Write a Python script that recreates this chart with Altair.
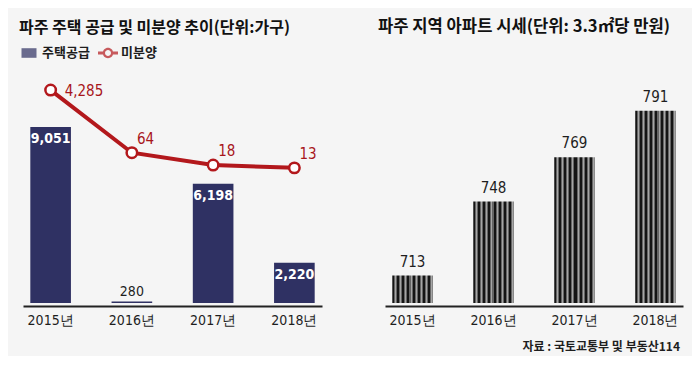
import altair as alt
import pandas as pd

# ---- data ----
years = ["2015년", "2016년", "2017년", "2018년"]
supply = [9051, 280, 6198, 2220]        # 주택공급 (가구)
unsold = [4285, 64, 18, 13]             # 미분양 (가구)
price = [713, 748, 769, 791]            # 아파트 시세 (3.3㎡당 만원)
legend_labels = ["주택공급", "미분양"]
title_left = "파주 주택 공급 및 미분양 추이(단위:가구)"
title_right = "파주 지역 아파트 시세(단위: 3.3㎡당 만원)"
source_text = "자료 : 국토교통부 및 부동산114"

df_left = pd.DataFrame({"year": years, "supply": supply, "unsold": unsold})
df_right = pd.DataFrame({"year": years, "price": price})
df_leg = pd.DataFrame({"series": legend_labels})

NAVY = "#2f3163"
RED = "#b3181c"
TXT = "#1e1e1e"
FONT = "DejaVu Sans Condensed, Liberation Sans, Arial, sans-serif"
KFONT = "Noto Sans CJK KR"
W_L, W_R, H = 299, 298, 262
P_MIN = 700

xaxis = alt.Axis(title=None, labelAngle=0, ticks=False, domainColor="#222",
                 domainWidth=2, offset=3, labelFontSize=14, labelColor=TXT,
                 labelPadding=7, labelFont=FONT, grid=False)
xs = alt.X("year:N", sort=years, axis=xaxis,
           scale=alt.Scale(paddingInner=0.5, paddingOuter=0.09))

ys_sup = alt.Y("supply:Q", axis=None,
               scale=alt.Scale(domain=[200, 13370], zero=False, nice=False))
ys_uns = alt.Y("unsold:Q", axis=None,
               scale=alt.Scale(type="pow", exponent=0.15, domain=[-127, 34340],
                               zero=False, nice=False))

bars_l = alt.Chart(df_left).mark_bar(color=NAVY, clip=True).encode(x=xs, y=ys_sup)
lab_in = alt.Chart(df_left).transform_filter("datum.supply >= 1000").mark_text(
    baseline="top", dy=5, color="white", fontSize=14, font=FONT, fontWeight="bold"
).encode(x=xs, y=ys_sup, text=alt.Text("supply:Q", format=","))
lab_out = alt.Chart(df_left).transform_filter("datum.supply < 1000").mark_text(
    baseline="bottom", dy=-2, color=TXT, fontSize=14, font=FONT
).encode(x=xs, y=ys_sup, text=alt.Text("supply:Q", format=","))

line = alt.Chart(df_left).mark_line(color=RED, strokeWidth=4).encode(x=xs, y=ys_uns)
pts = alt.Chart(df_left).mark_point(filled=True, fill="white", stroke=RED,
                                    strokeWidth=2.5, size=110, opacity=1).encode(x=xs, y=ys_uns)
ul_first = alt.Chart(df_left).transform_filter(alt.datum.year == years[0]).mark_text(
    align="left", baseline="middle", dx=14, dy=1, color="#a8161b", fontSize=15, font=FONT
).encode(x=xs, y=ys_uns, text=alt.Text("unsold:Q", format=","))
ul_rest = alt.Chart(df_left).transform_filter(alt.datum.year != years[0]).mark_text(
    align="left", baseline="middle", dx=5, dy=-14, color="#a8161b", fontSize=15, font=FONT
).encode(x=xs, y=ys_uns, text=alt.Text("unsold:Q", format=","))

# legend symbols (custom paths in the -1..1 box)
RECT = "M-0.75,-0.48H0.75V0.48H-0.75Z"
RING = ("M-1,-0.15H-0.45V0.15H-1Z M0.45,-0.15H1V0.15H0.45Z "
        "M0.52,0A0.52,0.52 0 1,1 -0.52,0A0.52,0.52 0 1,1 0.52,0Z "
        "M0.3,0A0.3,0.3 0 1,0 -0.3,0A0.3,0.3 0 1,0 0.3,0Z")
leg_common = dict(title=None, orient="none", legendX=-4, legendY=2,
                  direction="horizontal", symbolSize=400)
leg = alt.Chart(df_leg).transform_filter("false").mark_point(filled=True, size=400).encode(
    color=alt.Color("series:N", scale=alt.Scale(domain=legend_labels, range=[NAVY, RED]),
                    legend=alt.Legend(symbolStrokeWidth=0, labelFontSize=13,
                                      labelFont=KFONT, labelFontWeight="bold",
                                      labelColor=TXT, labelOffset=3, columnPadding=8,
                                      **leg_common)),
    shape=alt.Shape("series:N", scale=alt.Scale(domain=legend_labels, range=[RECT, RING]),
                    legend=alt.Legend(**leg_common)),
)

left = alt.layer(bars_l, lab_in, lab_out, line, pts, ul_first, ul_rest, leg).resolve_scale(
    y="independent").properties(
    width=W_L, height=H,
    title=alt.TitleParams(title_left, anchor="start", dx=-4, offset=5, fontSize=16,
                          font=KFONT, fontWeight="bold", color="#111"))

# right chart: striped bars via a hard-stop horizontal gradient
stops = []
n = 8
seg = [("#151515", 0.4), ("#666666", 0.2), ("#a6a6a6", 0.2), ("#666666", 0.2)]
for i in range(n):
    pos = i / n
    for col, frac in seg:
        stops.append(alt.GradientStop(offset=round(pos, 4), color=col))
        pos += frac / n
        stops.append(alt.GradientStop(offset=round(min(pos, 1), 4), color=col))
stripe = alt.LinearGradient(gradient="linear", stops=stops, x1=0, x2=1, y1=0, y2=0)

ys_pr = alt.Y("price:Q", axis=None,
              scale=alt.Scale(domain=[P_MIN, 824], zero=False, nice=False))
bars_r = alt.Chart(df_right).mark_bar(color=stripe).encode(
    x=xs, y=ys_pr, y2=alt.datum(P_MIN))
lab_r = alt.Chart(df_right).mark_text(baseline="bottom", dy=-6, color=TXT, fontSize=15,
                                      font=FONT).encode(x=xs, y=ys_pr, text="price:Q")
right = alt.layer(bars_r, lab_r).properties(
    width=W_R, height=H,
    title=alt.TitleParams(title_right, anchor="start", dx=-7, offset=5, fontSize=16.6,
                          font=KFONT, fontWeight="bold", color="#111"))

chart = alt.hconcat(left, right, spacing=63, bounds="flush").properties(
    title=alt.TitleParams(source_text, orient="bottom", anchor="end", fontSize=12,
                          font=KFONT, fontWeight="bold", color=TXT, offset=15, dx=-3),
    background="#f5f5f5",
    padding={"left": 11, "top": 11, "right": 9, "bottom": 3},
).configure_view(stroke=None)

chart.save("out.html", embed_options={"renderer": "svg", "actions": False})
